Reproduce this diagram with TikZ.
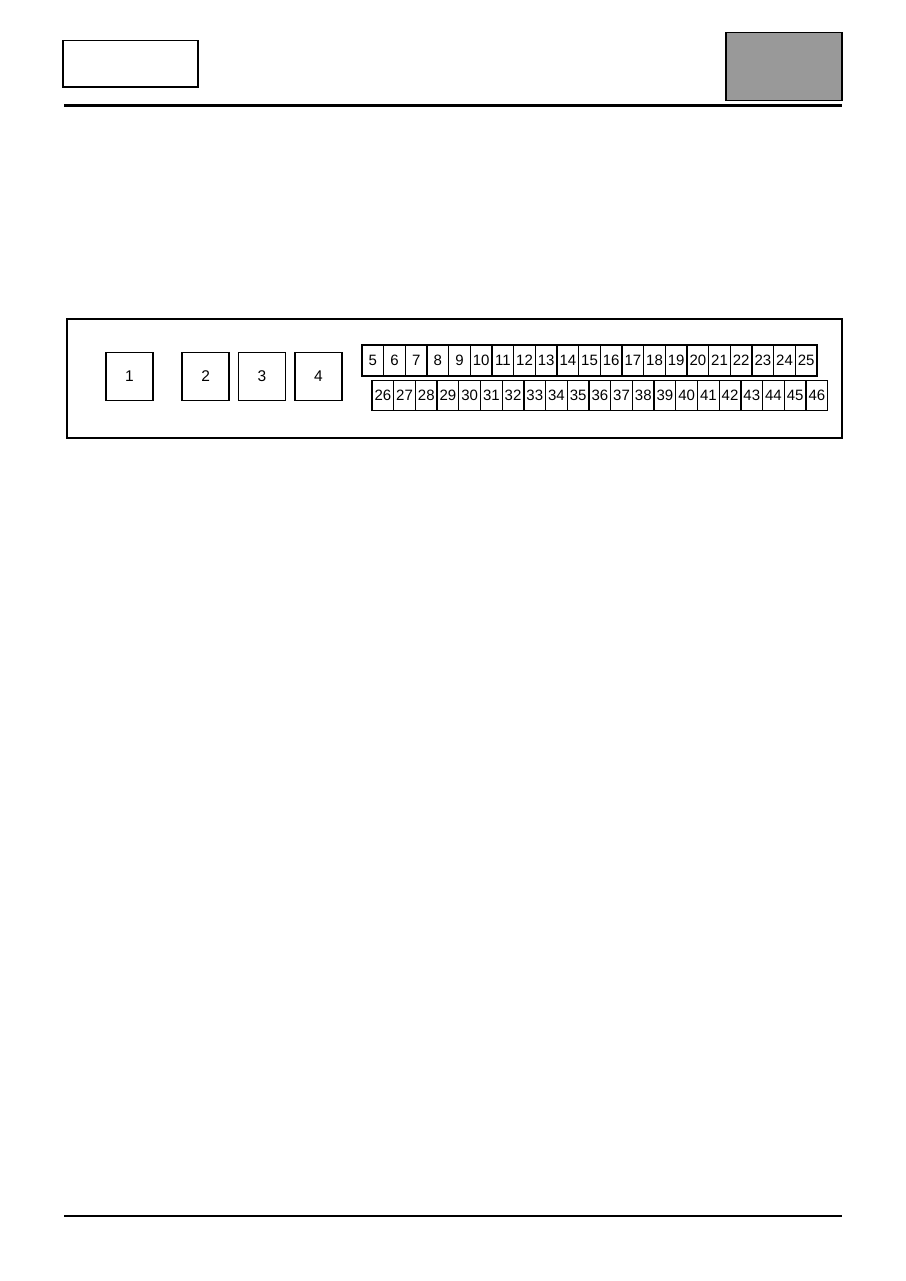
\documentclass[tikz,border=0pt]{standalone}
\usepackage{fontspec}
\setmainfont{Liberation Sans}
\begin{document}
\begin{tikzpicture}[x=1pt,y=-1pt,
  frame/.style={draw=black,line width=1.4pt},
  bigpin/.style={draw=black,line width=1.5pt,minimum width=47pt,minimum height=48pt,inner sep=0pt,font=\fontsize{15.5}{15.5}\selectfont},
  pin/.style={draw=black,line width=1.2pt,minimum width=21.67pt,minimum height=31pt,inner sep=0pt,font=\fontsize{15}{15}\selectfont},
  rule/.style={line width=2.8pt}]
\useasboundingbox (0,0) rectangle (905,1281);
\fill[white] (0,0) rectangle (905,1281);
% header
\node[frame,minimum width=135pt,minimum height=46.5pt,inner sep=0pt] (hbox) at (130.3,63.7) {};
\node[draw=black,line width=1.6pt,fill=black!40,minimum width=116pt,minimum height=68pt,inner sep=0pt] (gbox) at (784,66.7) {};
\coordinate (tl) at (64,105.7);
\coordinate (tr) at (842,105.7);
\draw[rule] (tl) -- (tr);
\coordinate (bl) at (64,1216);
\coordinate (br) at (842,1216);
\draw[rule] (bl) -- (br);
% connector frame
\node[frame,minimum width=775pt,minimum height=119pt,inner sep=0pt] (conn) at (454.3,378.5) {};
% big pins
\node[bigpin] (p1) at (129.5,376.5) {1};
\node[bigpin] (p2) at (205.7,376.5) {2};
\node[bigpin] (p3) at (262,376.5) {3};
\node[bigpin] (p4) at (318.5,376.5) {4};
% small pins
\foreach \i in {0,...,20}{
  \pgfmathtruncatemacro{\n}{\i+5}
  \node[pin] (c\n) at ({362+21.67*(\i+0.5)},360.5) {\n};
}
\foreach \i in {0,...,20}{
  \pgfmathtruncatemacro{\n}{\i+26}
  \node[pin,minimum height=30pt] (c\n) at ({372+21.7*(\i+0.5)},395.2) {\n};
}
\end{tikzpicture}
\end{document}
